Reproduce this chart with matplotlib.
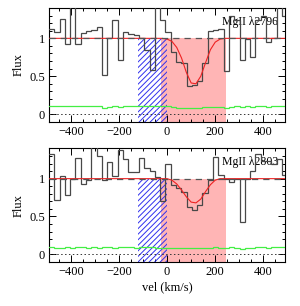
import numpy as np
import matplotlib.pyplot as plt
from matplotlib.ticker import MultipleLocator

plt.rcParams['font.family'] = ['Liberation Serif', 'DejaVu Serif']
plt.rcParams['hatch.linewidth'] = 0.7

# velocity bin edges (km/s)
vel_edges = [-513, -491, -469, -447, -425, -403, -381, -359, -337, -315, -293,
             -271, -249, -227, -205, -183, -161, -139, -117, -95, -73, -51, -29,
             -7, 15, 37, 59, 81, 103, 125, 147, 169, 191, 213, 235, 257, 279,
             301, 323, 345, 367, 389, 411, 433, 455, 477, 499, 521]

flux_2796 = [1.12, 1.12, 1.08, 1.26, 0.92, 1.60, 0.93, 1.07, 1.10, 1.11, 1.15,
             0.51, 1.00, 1.24, 0.72, 1.08, 1.06, 1.05, 1.01, 0.84, 0.58, 1.60,
             1.24, 1.08, 0.82, 0.69, 0.67, 0.37, 0.39, 0.43, 0.67, 1.10, 1.11,
             1.13, 0.57, 1.29, 1.24, 0.72, 0.99, 0.76, 1.24, 1.30, 0.95, 1.00,
             1.60, 1.29, 1.29]
err_2796 = [0.105, 0.105, 0.105, 0.10, 0.105, 0.11, 0.10, 0.10, 0.10, 0.10, 0.10,
            0.085, 0.095, 0.10, 0.095, 0.10, 0.10, 0.10, 0.10, 0.10, 0.10, 0.105,
            0.10, 0.10, 0.095, 0.085, 0.085, 0.085, 0.085, 0.085, 0.09, 0.09, 0.095,
            0.09, 0.075, 0.095, 0.10, 0.095, 0.10, 0.095, 0.10, 0.10, 0.095, 0.10,
            0.10, 0.10, 0.10]

flux_2803 = [1.32, 1.32, 0.72, 1.03, 0.78, 1.00, 1.27, 0.93, 0.98, 1.50, 1.30,
             0.98, 1.22, 1.03, 1.38, 1.26, 1.09, 1.09, 1.27, 1.14, 1.10, 1.02,
             0.71, 1.19, 0.92, 0.88, 0.82, 0.62, 0.59, 0.65, 0.81, 0.98, 1.28,
             1.05, 1.00, 0.95, 1.00, 0.43, 1.00, 1.10, 1.32, 1.23, 1.23, 1.20,
             1.26, 1.05, 1.05]
err_2803 = [0.10, 0.10, 0.09, 0.09, 0.095, 0.09, 0.095, 0.10, 0.09, 0.095, 0.09,
            0.095, 0.10, 0.09, 0.095, 0.10, 0.095, 0.09, 0.095, 0.10, 0.095, 0.09,
            0.09, 0.09, 0.09, 0.085, 0.085, 0.09, 0.085, 0.085, 0.09, 0.09, 0.095,
            0.09, 0.09, 0.095, 0.09, 0.07, 0.085, 0.09, 0.095, 0.095, 0.09, 0.095,
            0.095, 0.10, 0.10]

# fitted absorption model
model_vel = [-500, -20, 0, 20, 40, 60, 80, 100, 120, 140, 160, 180, 200, 220, 240, 500]
model_2796 = [1, 1, 0.99, 0.96, 0.88, 0.74, 0.55, 0.41, 0.40, 0.50, 0.68, 0.85, 0.95, 0.99, 1, 1]
model_2803 = [1, 1, 1.0, 0.98, 0.93, 0.85, 0.76, 0.69, 0.68, 0.73, 0.83, 0.92, 0.98, 1.0, 1, 1]

hatch_range = (-120, 0)
shade_range = (-25, 245)

panels = [
    (flux_2796, err_2796, model_2796, 'MgII λ2796'),
    (flux_2803, err_2803, model_2803, 'MgII λ2803'),
]

fig = plt.figure(figsize=(3.0, 3.06), dpi=100)
boxes = [[0.164, 0.6026, 0.786, 0.371], [0.164, 0.1441, 0.786, 0.371]]

for box, (flux, err, model, name) in zip(boxes, panels):
    ax = fig.add_axes(box)
    ax.set_xlim(-490, 490)
    ax.set_ylim(-0.1, 1.4)

    ax.fill_between(shade_range, -0.1, 1.0, color='#ffb5b5', lw=0, zorder=1)
    ax.fill_between(hatch_range, -0.1, 1.0, facecolor='none', edgecolor='#3030ee',
                    hatch='//////', lw=0, zorder=2)

    ax.stairs(err, vel_edges, color='#44ee44', lw=0.9, zorder=3)
    ax.stairs(flux, vel_edges, color='#484848', lw=0.9, zorder=4)
    ax.plot(model_vel, model, color='#ee2222', lw=0.8, zorder=5)
    ax.axhline(1.0, color='#555555', ls=(0, (5, 4)), lw=0.9, zorder=6)
    ax.axhline(0.0, color='#333333', ls=(0, (1.5, 2.5)), lw=0.7, zorder=6)

    ax.text(462, 1.215, name, ha='right', va='center', fontsize=8.5)

    ax.xaxis.set_major_locator(MultipleLocator(200))
    ax.xaxis.set_minor_locator(MultipleLocator(50))
    ax.yaxis.set_major_locator(MultipleLocator(0.5))
    ax.yaxis.set_minor_locator(MultipleLocator(0.1))
    ax.set_yticks([0, 0.5, 1])
    ax.set_yticklabels(['0', '0.5', '1'])
    ax.tick_params(which='both', direction='in', top=True, right=True,
                   labelsize=9, width=0.7, pad=3)
    ax.tick_params(which='major', length=5)
    ax.tick_params(which='minor', length=2.5)
    for s in ax.spines.values():
        s.set_linewidth(0.8)
    ax.set_ylabel('Flux', fontsize=9, labelpad=3)

ax.set_xlabel('vel (km/s)', fontsize=9, labelpad=2)

fig.savefig('out.png', dpi=100)
